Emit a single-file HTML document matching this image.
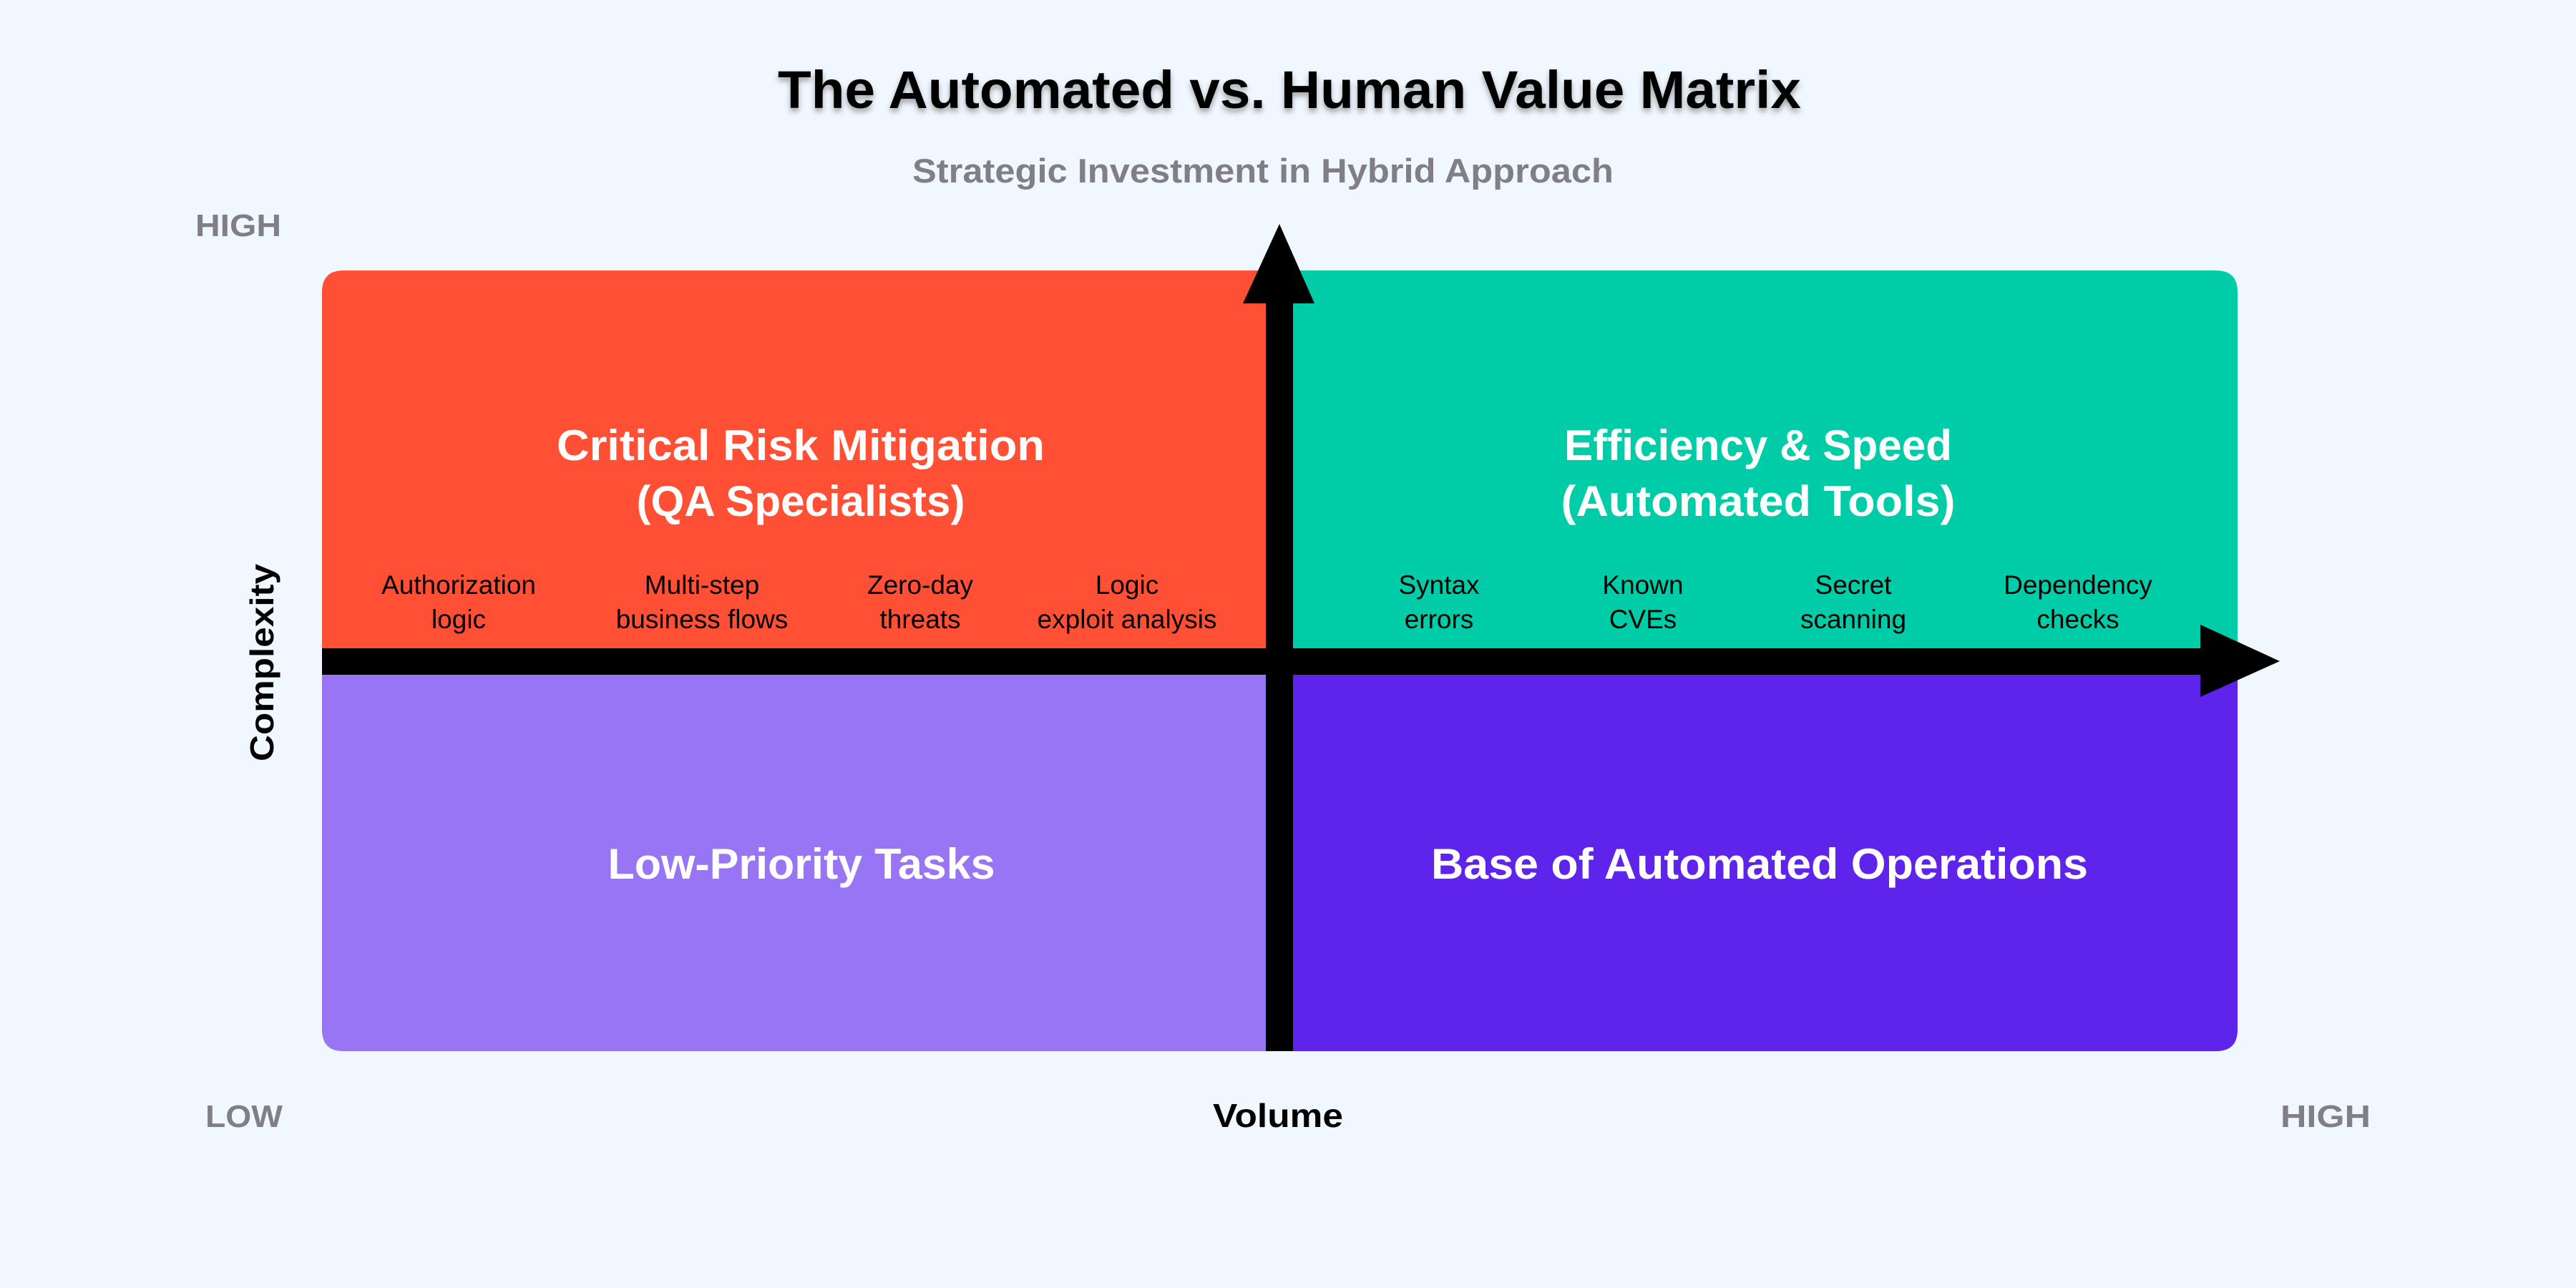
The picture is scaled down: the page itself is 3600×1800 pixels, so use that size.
<!DOCTYPE html>
<html><head><meta charset="utf-8"><style>
html,body{margin:0;padding:0;background:#F0F7FE;}
svg{display:block;}
text{font-family:"Liberation Sans",sans-serif;font-weight:bold;}
.it{font-weight:normal;font-size:37px;fill:#000;text-anchor:middle;}
.qt{fill:#fff;font-size:60px;text-anchor:middle;}
</style></head><body>
<svg width="3600" height="1800" viewBox="0 0 3600 1800" xmlns="http://www.w3.org/2000/svg">
<defs><filter id="sh" x="-5%" y="-20%" width="110%" height="150%"><feDropShadow dx="0" dy="5" stdDeviation="4" flood-color="#000" flood-opacity="0.35"/></filter></defs>
<rect width="3600" height="1800" fill="#F0F7FE"/>
<text x="1802" y="151" font-size="74" text-anchor="middle" textLength="1430" lengthAdjust="spacingAndGlyphs" filter="url(#sh)">The Automated vs. Human Value Matrix</text>
<text x="1765" y="255" font-size="47" fill="#7F7F85" text-anchor="middle" textLength="980" lengthAdjust="spacingAndGlyphs">Strategic Investment in Hybrid Approach</text>
<text x="333" y="330" font-size="44" fill="#7F7F85" text-anchor="middle" textLength="120" lengthAdjust="spacingAndGlyphs">HIGH</text>
<text x="341" y="1575" font-size="44" fill="#7F7F85" text-anchor="middle" textLength="108" lengthAdjust="spacingAndGlyphs">LOW</text>
<text x="3250" y="1575" font-size="44" fill="#7F7F85" text-anchor="middle" textLength="126" lengthAdjust="spacingAndGlyphs">HIGH</text>
<text x="1786" y="1575" font-size="46" fill="#000" text-anchor="middle" textLength="182" lengthAdjust="spacingAndGlyphs">Volume</text>
<text transform="translate(382,926) rotate(-90)" font-size="46" fill="#000" text-anchor="middle" textLength="276" lengthAdjust="spacingAndGlyphs">Complexity</text>

<path d="M480 378 H1790 V925 H450 V408 Q450 378 480 378 Z" fill="#FF4F35"/>
<path d="M1790 378 H3097 Q3127 378 3127 408 V925 H1790 Z" fill="#00CCA7"/>
<path d="M450 925 H1790 V1469 H480 Q450 1469 450 1439 Z" fill="#9875F5"/>
<path d="M1790 925 H3127 V1439 Q3127 1469 3097 1469 H1790 Z" fill="#5E24EC"/>

<rect x="1769" y="420" width="38" height="1049" fill="#000"/>
<polygon points="1788,313 1837,424 1737,424" fill="#000"/>
<rect x="450" y="906" width="2630" height="37" fill="#000"/>
<polygon points="3186,924 3075,873 3075,974" fill="#000"/>

<text class="qt" x="1119" y="643" textLength="682" lengthAdjust="spacingAndGlyphs">Critical Risk Mitigation</text>
<text class="qt" x="1119" y="721" textLength="459" lengthAdjust="spacingAndGlyphs">(QA Specialists)</text>
<text class="qt" x="2457" y="643" textLength="542" lengthAdjust="spacingAndGlyphs">Efficiency &amp; Speed</text>
<text class="qt" x="2457" y="721" textLength="551" lengthAdjust="spacingAndGlyphs">(Automated Tools)</text>
<text class="qt" x="1120" y="1228" textLength="541" lengthAdjust="spacingAndGlyphs">Low-Priority Tasks</text>
<text class="qt" x="2459" y="1228" textLength="918" lengthAdjust="spacingAndGlyphs">Base of Automated Operations</text>

<text class="it" x="641" y="830">Authorization</text><text class="it" x="641" y="878">logic</text>
<text class="it" x="981" y="830">Multi-step</text><text class="it" x="981" y="878">business flows</text>
<text class="it" x="1286" y="830">Zero-day</text><text class="it" x="1286" y="878">threats</text>
<text class="it" x="1575" y="830">Logic</text><text class="it" x="1575" y="878">exploit analysis</text>
<text class="it" x="2011" y="830">Syntax</text><text class="it" x="2011" y="878">errors</text>
<text class="it" x="2296" y="830">Known</text><text class="it" x="2296" y="878">CVEs</text>
<text class="it" x="2590" y="830">Secret</text><text class="it" x="2590" y="878">scanning</text>
<text class="it" x="2904" y="830">Dependency</text><text class="it" x="2904" y="878">checks</text>
</svg>
</body></html>
